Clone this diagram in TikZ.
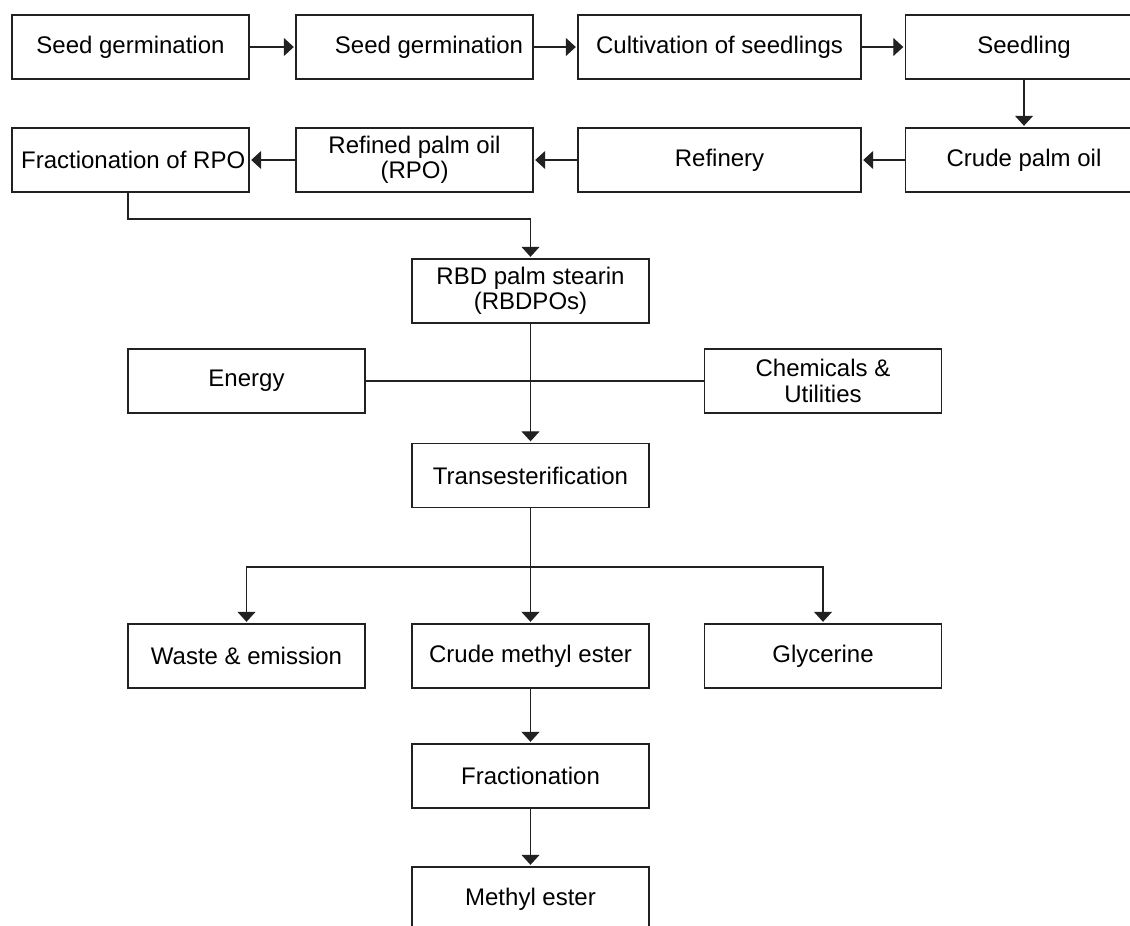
\documentclass[tikz,border=0pt]{standalone}
\usepackage{fontspec}
\setmainfont{Liberation Sans}
\usetikzlibrary{arrows.meta}
\begin{document}
\begin{tikzpicture}[x=0.75pt,y=-0.75pt,
  line width=0.9pt, color={rgb,1:red,0.13;green,0.13;blue,0.13},
  box/.style={draw, fill=white, minimum width=177.75pt, minimum height=48pt, inner sep=0pt,
    align=center, text=black, font=\fontsize{18}{19}\selectfont},
  widebox/.style={box, minimum width=212.25pt},
  arr/.style={-{Triangle[length=7.5pt,width=13.5pt]}, shorten >=1.2pt}]
\useasboundingbox (0,0) rectangle (1130,925);
\fill[white] (0,0) rectangle (1130,925);
% row 1
\node[box] (b1) at (130.5,47) {Seed germination};
\node[box] (b2) at (414.5,47) {\hspace*{21.75pt}Seed germination};
\node[widebox] (b3) at (719.5,47) {Cultivation of seedlings};
\node[box] (b4) at (1024,47) {Seedling};
% row 2
\node[box] (r1) at (130.5,160) {\hspace*{4pt}Fractionation of RPO};
\node[box] (r2) at (414.5,160) {Refined palm oil\\(RPO)};
\node[widebox] (r3) at (719.5,160) {Refinery};
\node[box] (r4) at (1024,160) {Crude palm oil};
% middle
\node[box] (rbd) at (530.5,291) {RBD palm stearin\\(RBDPOs)};
\node[box] (energy) at (246.5,381) {Energy};
\node[box] (chem) at (823,381) {Chemicals \&\\Utilities};
\node[box] (trans) at (530.5,475.5) {Transesterification};
\node[box] (waste) at (246.5,656) {Waste \& emission};
\node[box] (cme) at (530.5,656) {Crude methyl ester};
\node[box] (gly) at (823,656) {Glycerine};
\node[box] (frac) at (530.5,776) {Fractionation};
\node[box] (me) at (530.5,899) {Methyl ester};
% connectors
\draw[arr] (b1) -- (b2);
\draw[arr] (b2) -- (b3);
\draw[arr] (b3) -- (b4);
\draw[arr] (b4.south) -- (r4.north);
\draw[arr] (r4) -- (r3);
\draw[arr] (r3) -- (r2);
\draw[arr] (r2) -- (r1);
\coordinate (j1) at (128,219);
\draw[arr] (r1.south -| j1) -- (j1) -| (rbd.north);
\draw (energy.east) -- (chem.west);
\draw[arr] (rbd.south) -- (trans.north);
\coordinate (split) at (530.5,567);
\draw (trans.south) -- (split);
\draw[arr] (split) -- (cme.north);
\draw[arr] (split) -| (waste.north);
\draw[arr] (split) -| (gly.north);
\draw[arr] (cme.south) -- (frac.north);
\draw[arr] (frac.south) -- (me.north);
\end{tikzpicture}
\end{document}
